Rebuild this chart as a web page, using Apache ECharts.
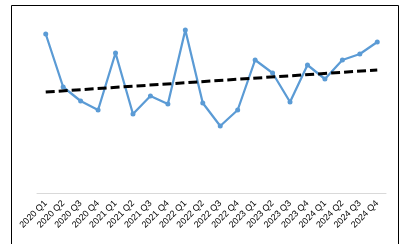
<!DOCTYPE html>
<html>
<head>
<meta charset="utf-8">
<script src="https://cdn.jsdelivr.net/npm/echarts@6/dist/echarts.min.js"></script>
<style>
  html, body { margin: 0; padding: 0; background: #fff; }
  #chart-container { width: 404px; height: 244px; }
</style>
</head>
<body>
<div id="chart-container"></div>
<script>
// quarters on the x axis
var quarters = ['2020 Q1', '2020 Q2', '2020 Q3', '2020 Q4',
  '2021 Q1', '2021 Q2', '2021 Q3', '2021 Q4',
  '2022 Q1', '2022 Q2', '2022 Q3', '2022 Q4',
  '2023 Q1', '2023 Q2', '2023 Q3', '2023 Q4',
  '2024 Q1', '2024 Q2', '2024 Q3', '2024 Q4'];

// values (no axis labels, so arbitrary units)
var values = [159, 106, 92, 83, 140, 79, 97, 89, 163, 90,
  67, 83, 133, 120, 91, 128, 114, 133, 139, 151];

// trendline: only the two ends, joined straight
var trend = [101, null, null, null, null, null, null, null, null, null,
  null, null, null, null, null, null, null, null, null, 123];

var dom = document.getElementById('chart-container');
var myChart = echarts.init(dom, null, { renderer: 'canvas' });

var option = {
  animation: false,
  graphic: [{
    type: 'rect',
    shape: { x: 11.5, y: 5.5, width: 387, height: 260 },
    style: { fill: 'none', stroke: '#000', lineWidth: 1 },
    silent: true
  }],
  grid: { left: 37, right: 18, top: 15, bottom: 51 },
  xAxis: {
    type: 'category',
    data: quarters,
    boundaryGap: true,
    axisLine: { lineStyle: { color: '#d9d9d9', width: 1 } },
    axisTick: { show: false },
    axisLabel: {
      rotate: 45,
      interval: 0,
      margin: 9,
      color: '#000',
      fontSize: 9,
      fontFamily: 'Liberation Sans'
    }
  },
  yAxis: {
    type: 'value',
    min: 0,
    max: 178,
    show: false,
    splitLine: { show: false }
  },
  series: [
    {
      name: 'Value',
      type: 'line',
      data: values,
      symbol: 'circle',
      symbolSize: 5,
      itemStyle: { color: '#5b9bd5' },
      lineStyle: { color: '#5b9bd5', width: 2.25 },
      z: 2
    },
    {
      name: 'Trend',
      type: 'line',
      data: trend,
      connectNulls: true,
      symbol: 'none',
      lineStyle: { color: '#000', width: 3, type: [9, 4] },
      z: 3
    }
  ]
};

myChart.setOption(option);
window.addEventListener('resize', myChart.resize);
</script>
</body>
</html>
